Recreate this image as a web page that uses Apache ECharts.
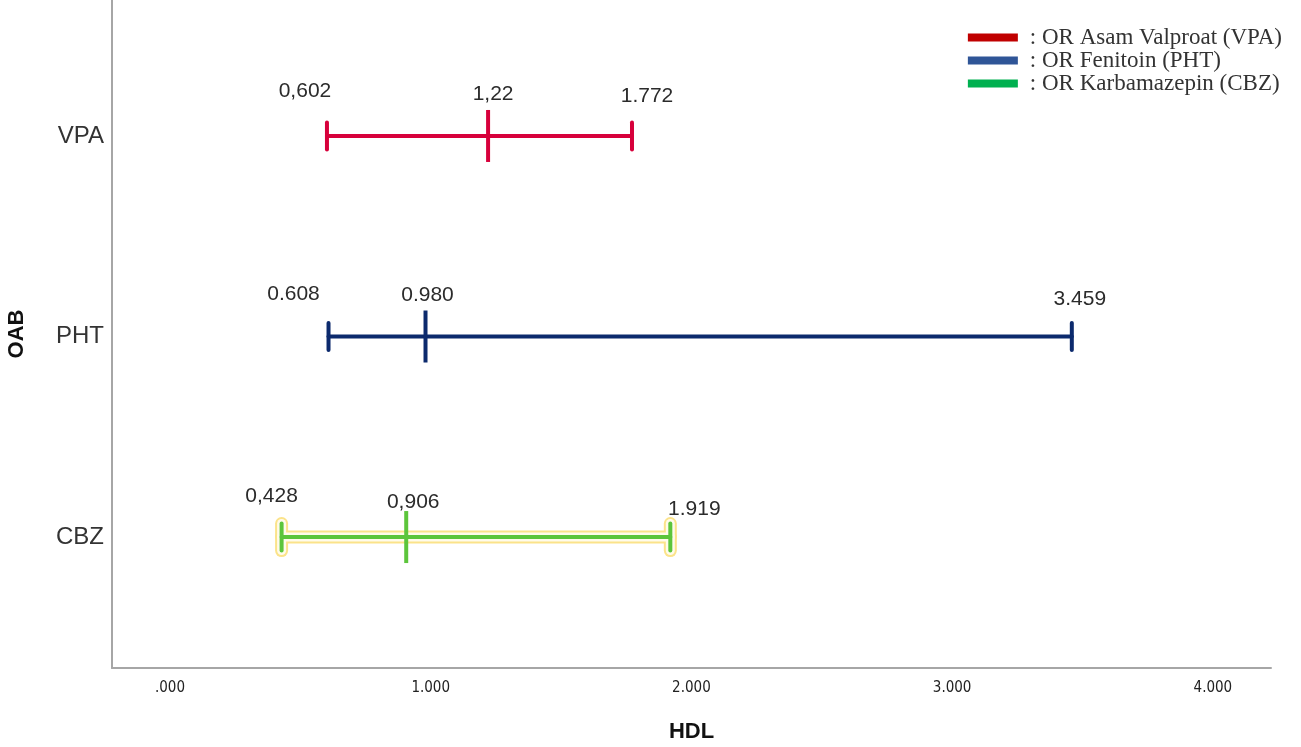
<!DOCTYPE html>
<html>
<head>
<meta charset="utf-8">
<script src="https://cdn.jsdelivr.net/npm/echarts@6/dist/echarts.min.js"></script>
<style>
  html, body { margin: 0; padding: 0; background: #fff; }
  #chart { width: 1301px; height: 747px; }
</style>
</head>
<body>
<div id="chart"></div>
<script>
// Odds ratios with confidence limits for HDL, per antiepileptic drug
const categories = ['VPA', 'PHT', 'CBZ'];
const legendNames = [': OR Asam Valproat (VPA)', ': OR Fenitoin (PHT)', ': OR Karbamazepin (CBZ)'];
const lower = [0.602, 0.608, 0.428];
const estimate = [1.22, 0.980, 0.906];
const upper = [1.772, 3.459, 1.919];
const lowerText = ['0,602', '0.608', '0,428'];
const estimateText = ['1,22', '0.980', '0,906'];
const upperText = ['1.772', '3.459', '1.919'];
const xTicks = [0, 1, 2, 3, 4];
const xTickLabels = ['.000', '1.000', '2.000', '3.000', '4.000'];

// Styling
const markColors = ['#d7003b', '#0c2a6d', '#5cc53b'];
const legendColors = ['#c00000', '#2f5597', '#00b050'];
const haloColor = ['', '', '#fbe38a'];
// label offsets (px) relative to each mark: [dx, dy] for lower, estimate, upper
const labelOffsets = [
  [[-22, -45], [5, -42], [15, -40]],
  [[-35, -42], [2, -41], [8, -37]],
  [[-10, -41], [7, -35], [24, -28]]
];

const rowValue = i => categories.length - i;

function makeRender(idx) {
  return function (params, api) {
    const y = api.value(3);
    const pL = api.coord([api.value(0), y]);
    const pM = api.coord([api.value(1), y]);
    const pH = api.coord([api.value(2), y]);
    const color = markColors[idx];
    const cap = 13.5, mid = 26;
    const children = [];
    const segs = [
      [pL[0], pL[1], pH[0], pH[1]],
      [pL[0], pL[1] - cap, pL[0], pL[1] + cap],
      [pH[0], pH[1] - cap, pH[0], pH[1] + cap]
    ];
    const addSegs = (stroke, width) => segs.forEach(s => children.push({
      type: 'line',
      shape: { x1: s[0], y1: s[1], x2: s[2], y2: s[3] },
      style: { stroke: stroke, lineWidth: width, lineCap: 'round' }
    }));
    if (haloColor[idx]) {
      // highlighted interval: pale band with a yellow rim
      addSegs(haloColor[idx], 13);
      addSegs('#fffbea', 9);
    }
    addSegs(color, 4);
    children.push({
      type: 'line',
      shape: { x1: pM[0], y1: pM[1] - mid, x2: pM[0], y2: pM[1] + mid },
      style: { stroke: color, lineWidth: 4 }
    });
    const texts = [lowerText[idx], estimateText[idx], upperText[idx]];
    [pL, pM, pH].forEach((p, k) => {
      const off = labelOffsets[idx][k];
      children.push({
        type: 'text',
        x: p[0] + off[0],
        y: p[1] + off[1],
        style: {
          text: texts[k],
          fill: '#2b2b2b',
          font: '21px "Liberation Sans", Arial, sans-serif',
          align: 'center',
          verticalAlign: 'middle'
        }
      });
    });
    return { type: 'group', children: children };
  };
}

const series = categories.map((c, i) => ({
  type: 'custom',
  name: legendNames[i],
  color: legendColors[i],
  renderItem: makeRender(i),
  encode: { x: [0, 1, 2], y: 3 },
  data: [[lower[i], estimate[i], upper[i], rowValue(i)]],
  silent: true
}));

const chart = echarts.init(document.getElementById('chart'), null, { renderer: 'canvas' });
chart.setOption({
  animation: false,
  backgroundColor: '#ffffff',
  grid: { left: 112, right: 30, top: 0, bottom: 79, containLabel: false, outerBoundsMode: 'none' },
  legend: {
    orient: 'vertical',
    right: 14,
    top: 21,
    itemGap: 0,
    itemWidth: 50,
    itemHeight: 8,
    icon: 'rect',
    selectedMode: false,
    textStyle: {
      fontFamily: '"Liberation Serif", "Times New Roman", serif',
      fontSize: 23,
      color: '#333',
      padding: [0, 0, 0, 7]
    },
    data: legendNames.map((n, i) => ({ name: n, itemStyle: { color: legendColors[i] } }))
  },
  xAxis: {
    type: 'value',
    min: -0.2225,
    max: 4.223,
    name: 'HDL',
    nameLocation: 'middle',
    nameGap: 53,
    nameTextStyle: { fontFamily: '"Liberation Sans", Arial, sans-serif', fontWeight: 'bold', fontSize: 22, color: '#111' },
    axisLine: { show: true, onZero: false, lineStyle: { color: '#a6a6a6', width: 2 } },
    axisTick: { show: false },
    splitLine: { show: false },
    axisLabel: {
      customValues: xTicks,
      margin: 13,
      fontFamily: '"Liberation Sans Narrow", "DejaVu Sans Condensed", "Liberation Sans", sans-serif',
      fontSize: 15,
      color: '#222',
      formatter: v => xTickLabels[xTicks.indexOf(Math.round(v * 1000) / 1000)] ?? ''
    }
  },
  yAxis: {
    type: 'value',
    min: 0.347,
    max: 3.678,
    name: 'OAB',
    nameLocation: 'middle',
    nameRotate: 90,
    nameGap: 84,
    nameTextStyle: { fontFamily: '"Liberation Sans", Arial, sans-serif', fontWeight: 'bold', fontSize: 22, color: '#111' },
    axisLine: { show: true, onZero: false, lineStyle: { color: '#a6a6a6', width: 2 } },
    axisTick: { show: false },
    splitLine: { show: false },
    axisLabel: {
      customValues: categories.map((c, i) => rowValue(i)),
      margin: 8,
      fontFamily: '"Liberation Sans", Arial, sans-serif',
      fontSize: 24,
      color: '#333',
      formatter: v => categories[categories.length - Math.round(v)] ?? ''
    }
  },
  series: series
});
</script>
</body>
</html>
